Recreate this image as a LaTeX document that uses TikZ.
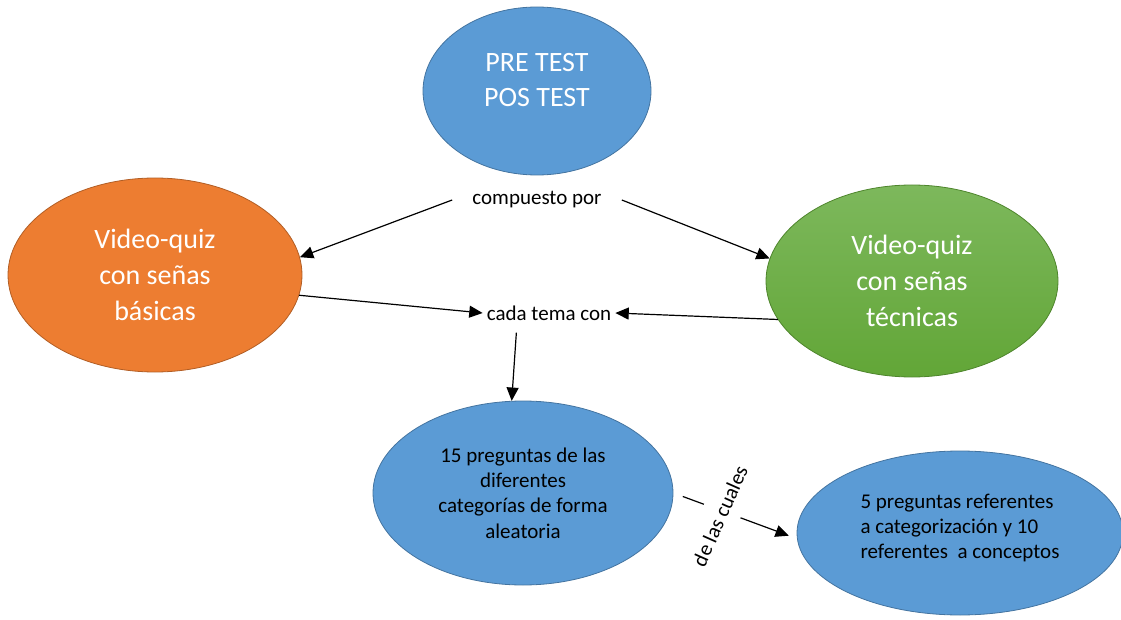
\documentclass[tikz,border=0pt]{standalone}
\usepackage{fontspec}
\setmainfont{Carlito}
\usetikzlibrary{arrows.meta}
\usetikzlibrary{shapes.geometric}

\definecolor{quizBlue}{HTML}{5B9BD5}
\definecolor{quizOrange}{HTML}{ED7D31}
\definecolor{quizGreenTop}{HTML}{7DB85C}
\definecolor{quizGreenBot}{HTML}{62A637}

\begin{document}
\begin{tikzpicture}[x=0.75pt, y=-0.75pt,
	bubble/.style={ellipse, inner sep=0pt, line width=0.6pt, align=center},
	bigText/.style={text=white, align=center, font=\fontsize{21}{27}\selectfont},
	smallText/.style={align=center, font=\fontsize{15.75}{19.1}\selectfont},
	linkText/.style={font=\fontsize{15.75}{19}\selectfont, inner ysep=2pt},
	link/.style={-{Triangle[length=10pt,width=9pt]}, line width=0.9pt}]

	%page size of the reference, one unit is one pixel
	\useasboundingbox (0,0) rectangle (1121,620);

	%top ellipse, the tests
	\node[bubble, fill=quizBlue, draw=quizBlue!75!black, minimum width=171pt, minimum height=126pt] (pretest) at (537,91) {};
	\node[bigText, font=\fontsize{21}{26.25}\selectfont] (pretestText) at (537,80) {PRE TEST\\POS TEST};

	%the two video-quiz ellipses
	\node[bubble, bigText, fill=quizOrange, draw=quizOrange!75!black, minimum width=220.5pt, minimum height=145.5pt] (basicas) at (155,275) {Video-quiz\\con señas\\básicas};
	\node[bubble, bigText, top color=quizGreenTop, bottom color=quizGreenBot, draw=quizGreenBot!80!black, minimum width=219pt, minimum height=144pt] (tecnicas) at (912,281) {Video-quiz\\con señas\\técnicas};

	%question ellipses
	\node[bubble, smallText, fill=quizBlue, draw=quizBlue!75!black, minimum width=225pt, minimum height=138pt] (preguntas) at (523,493) {15 preguntas de las\\diferentes\\categorías de forma\\aleatoria};
	\node[bubble, fill=quizBlue, draw=quizBlue!75!black, minimum width=244.5pt, minimum height=123pt] (referentes) at (960,533) {};
	\node[smallText, align=left] (referentesText) at (960,528) {5 preguntas referentes\\a categorización y 10\\referentes\ \ a conceptos};

	%link words
	\node[linkText, inner xsep=15pt] (compuesto) at (537,200) {compuesto por};
	\node[linkText, inner xsep=3pt] (cadatema) at (549,313) {cada tema con};

	%connectors
	\draw[link] (compuesto.west) -- (basicas.7);
	\draw[link] (compuesto.east) -- (tecnicas.171);
	\draw[link] (basicas.-8) -- (cadatema.west);
	\draw[link] (tecnicas.196) -- (cadatema.east);
	\draw[link, shorten <=7pt] ([xshift=-24pt]cadatema.south) -- (preguntas.97);
	\draw[link, shorten <=7.5pt, shorten >=6.5pt] (preguntas.0) -- (referentes.182);

	%rotated label breaking the last connector
	\node[linkText, rotate=66, fill=white, inner xsep=2pt, inner ysep=9pt] (cuales) at (720,516) {de las cuales};

\end{tikzpicture}
\end{document}
